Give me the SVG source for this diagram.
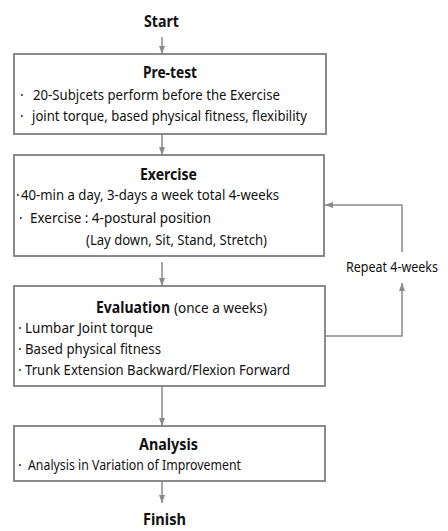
<svg xmlns="http://www.w3.org/2000/svg" width="448" height="531" viewBox="0 0 448 531">
<defs>
<style>
.box{fill:#fff;stroke:#7f7f7f;stroke-width:1.8}
.ln{fill:none;stroke:#8a8a8a;stroke-width:1.5}
.t{font-family:"Noto Sans","Open Sans",sans-serif;fill:#111}
.h{font-weight:bold;font-size:16px}
.b{font-size:13.5px}
.s{font-size:14px}
</style>
<marker id="ah" markerUnits="userSpaceOnUse" markerWidth="8" markerHeight="8" viewBox="0 0 8 8" refX="8" refY="4" orient="auto">
<path d="M0,1 L8,4 L0,7 Z" fill="#8a8a8a"/>
</marker>
</defs>
<rect width="448" height="531" fill="#fff"/>
<g id="connectors">
<line class="ln" x1="162" y1="37" x2="162" y2="54" marker-end="url(#ah)"/>
<line class="ln" x1="162" y1="134" x2="162" y2="155" marker-end="url(#ah)"/>
<line class="ln" x1="162" y1="262" x2="162" y2="286" marker-end="url(#ah)"/>
<line class="ln" x1="162" y1="386" x2="162" y2="426" marker-end="url(#ah)"/>
<line class="ln" x1="162" y1="477" x2="162" y2="503" marker-end="url(#ah)"/>
<path class="ln" d="M325 336 H402 V283" marker-end="url(#ah)"/>
<path class="ln" d="M402 252 V205 H325" marker-end="url(#ah)"/>
<text class="t s" x="346" y="272" textLength="92" lengthAdjust="spacingAndGlyphs">Repeat 4-weeks</text>
</g>
<g id="start">
<text class="t h" x="144" y="27" textLength="35" lengthAdjust="spacingAndGlyphs">Start</text>
</g>
<g id="pretest">
<rect class="box" x="14" y="54" width="312" height="80"/>
<text class="t h" x="143" y="78" textLength="54" lengthAdjust="spacingAndGlyphs">Pre-test</text>
<text class="t b" x="20" y="100">·</text>
<text class="t b" x="33" y="100" textLength="247" lengthAdjust="spacingAndGlyphs">20-Subjcets perform before the Exercise</text>
<text class="t b" x="20" y="121">·</text>
<text class="t b" x="32" y="121" textLength="275" lengthAdjust="spacingAndGlyphs">joint torque, based physical fitness, flexibility</text>
</g>
<g id="exercise">
<rect class="box" x="14" y="155" width="310" height="101"/>
<text class="t h" x="140" y="180" textLength="57" lengthAdjust="spacingAndGlyphs">Exercise</text>
<text class="t b" x="16" y="200">·</text>
<text class="t b" x="21" y="200" textLength="258" lengthAdjust="spacingAndGlyphs">40-min a day,  3-days a week total 4-weeks</text>
<text class="t b" x="19" y="223">·</text>
<text class="t b" x="30" y="223" textLength="181" lengthAdjust="spacingAndGlyphs">Exercise :  4-postural position</text>
<text class="t b" x="86" y="245" textLength="181" lengthAdjust="spacingAndGlyphs">(Lay down, Sit, Stand, Stretch)</text>
</g>
<g id="evaluation">
<rect class="box" x="14" y="286" width="311" height="100"/>
<text class="t h" x="96" y="313" textLength="74" lengthAdjust="spacingAndGlyphs">Evaluation</text>
<text class="t b" x="174" y="313" textLength="93" lengthAdjust="spacingAndGlyphs">(once a weeks)</text>
<text class="t b" x="18" y="333">·</text>
<text class="t b" x="25" y="333" textLength="128" lengthAdjust="spacingAndGlyphs">Lumbar Joint torque</text>
<text class="t b" x="18" y="354">·</text>
<text class="t b" x="25" y="354" textLength="136" lengthAdjust="spacingAndGlyphs">Based physical fitness</text>
<text class="t b" x="18" y="375">·</text>
<text class="t b" x="25" y="375" textLength="265" lengthAdjust="spacingAndGlyphs">Trunk Extension Backward/Flexion Forward</text>
</g>
<g id="analysis">
<rect class="box" x="14" y="426" width="311" height="55"/>
<text class="t h" x="139" y="450" textLength="59" lengthAdjust="spacingAndGlyphs">Analysis</text>
<text class="t b" x="18" y="470">·</text>
<text class="t b" x="28" y="470" textLength="213" lengthAdjust="spacingAndGlyphs">Analysis in Variation of Improvement</text>
</g>
<g id="finish">
<text class="t h" x="143" y="525" textLength="43" lengthAdjust="spacingAndGlyphs">Finish</text>
</g>
</svg>
